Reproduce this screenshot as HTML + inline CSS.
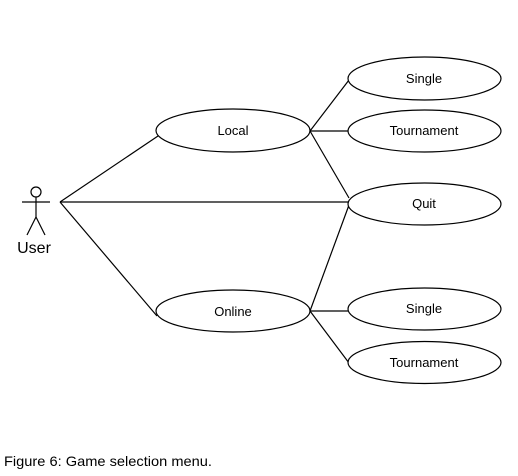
<!DOCTYPE html>
<html><head><style>body{margin:0;background:#fff}svg{display:block}</style></head>
<body>
<svg width="518" height="476" xmlns="http://www.w3.org/2000/svg" font-family="Liberation Sans, DejaVu Sans, sans-serif">
<g stroke="#000" stroke-width="1.2" fill="none">
<line x1="60" y1="202" x2="158" y2="136"/>
<line x1="60" y1="202" x2="348" y2="202"/>
<line x1="60" y1="202" x2="157" y2="316"/>
<line x1="310" y1="131" x2="349" y2="80"/>
<line x1="310" y1="131" x2="348" y2="131"/>
<line x1="310" y1="131" x2="349" y2="198"/>
<line x1="310" y1="311" x2="349" y2="205"/>
<line x1="310" y1="311" x2="348" y2="311"/>
<line x1="310" y1="311" x2="349" y2="363"/>
<circle cx="36" cy="192" r="5"/>
<line x1="22" y1="202" x2="50" y2="202"/>
<line x1="36" y1="197" x2="36" y2="217"/>
<line x1="36" y1="217" x2="27" y2="235"/>
<line x1="36" y1="217" x2="45" y2="235"/>
</g>
<g stroke="#000" stroke-width="1.2" fill="#fff">
<ellipse cx="233" cy="130.5" rx="77" ry="21.5"/>
<ellipse cx="233" cy="311" rx="77" ry="21"/>
<ellipse cx="424.5" cy="78.5" rx="76.5" ry="21.5"/>
<ellipse cx="424.5" cy="131" rx="76.5" ry="21"/>
<ellipse cx="424.5" cy="204" rx="76.5" ry="21"/>
<ellipse cx="424.5" cy="309" rx="76.5" ry="21"/>
<ellipse cx="424.5" cy="362.5" rx="76.5" ry="21"/>
</g>
<g font-size="13" text-anchor="middle" fill="#000">
<text x="233" y="135">Local</text>
<text x="233" y="316">Online</text>
<text x="424" y="83">Single</text>
<text x="424" y="135">Tournament</text>
<text x="424" y="208">Quit</text>
<text x="424" y="313">Single</text>
<text x="424" y="367">Tournament</text>
</g>
<text x="34" y="253" font-size="16" text-anchor="middle">User</text>
<text x="4" y="466" font-size="14" textLength="208" lengthAdjust="spacingAndGlyphs">Figure 6: Game selection menu.</text>
</svg>
</body></html>
